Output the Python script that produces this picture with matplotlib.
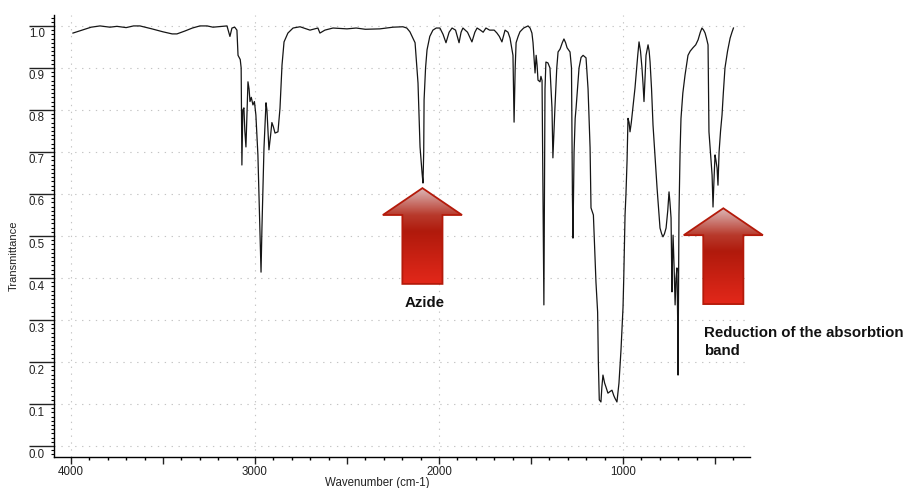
import matplotlib
matplotlib.use("Agg")
import matplotlib.pyplot as plt
import numpy as np
from matplotlib.patches import Polygon
from matplotlib.colors import LinearSegmentedColormap
from matplotlib.ticker import MultipleLocator, FixedLocator
from matplotlib.transforms import ScaledTranslation

plt.rcParams['font.family'] = ['Liberation Sans', 'DejaVu Sans']

# IR spectrum (wavenumber cm-1, transmittance)
wavenumber = [3989, 3940, 3890, 3842, 3788, 3750, 3700, 3660, 3625, 3560, 3500, 3450, 3424, 3380,
              3340, 3299, 3260, 3228, 3175, 3152, 3136, 3125, 3110, 3098, 3092, 3080, 3075, 3071,
              3066, 3060, 3055, 3049, 3043, 3038, 3032, 3027, 3020, 3011, 3003, 2995, 2984, 2973,
              2967, 2962, 2951, 2940, 2935, 2924, 2915, 2908, 2900, 2891, 2875, 2864, 2853, 2842,
              2821, 2793, 2755, 2701, 2658, 2647, 2620, 2576, 2500, 2450, 2400, 2321, 2250, 2196,
              2175, 2158, 2130, 2114, 2103, 2092, 2087, 2083, 2081, 2073, 2065, 2050, 2033, 2015,
              1995, 1978, 1962, 1945, 1929, 1910, 1891, 1880, 1870, 1845, 1821, 1805, 1793, 1775,
              1760, 1745, 1725, 1700, 1685, 1672, 1658, 1641, 1625, 1614, 1598, 1592, 1586, 1581,
              1570, 1560, 1540, 1516, 1505, 1495, 1489, 1478, 1472, 1467, 1462, 1451, 1446, 1440,
              1430, 1424, 1419, 1408, 1397, 1386, 1381, 1375, 1370, 1360, 1353, 1342, 1330, 1321,
              1312, 1304, 1288, 1280, 1275, 1272, 1266, 1260, 1255, 1239, 1228, 1217, 1201, 1190,
              1179, 1174, 1161, 1152, 1147, 1138, 1134, 1129, 1120, 1115, 1109, 1100, 1093, 1082,
              1070, 1060, 1050, 1044, 1033, 1022, 1011, 1000, 996, 989, 984, 978, 973, 967,
              962, 955, 945, 935, 920, 913, 905, 897, 891, 886, 880, 875, 864, 858,
              853, 845, 837, 815, 799, 790, 783, 775, 766, 757, 750, 745, 739, 734,
              731, 728, 722, 717, 712, 707, 703, 701, 698, 696, 690, 685, 675, 663,
              647, 635, 620, 605, 592, 580, 571, 562, 554, 546, 538, 533, 525, 516,
              511, 506, 500, 495, 489, 484, 478, 470, 462, 455, 446, 432, 418, 408, 400]
transmittance = [0.983, 0.990, 0.997, 1.000, 0.997, 0.999, 0.996, 1.000, 1.000, 0.993, 0.986, 0.981, 0.981, 0.988,
                 0.995, 1.000, 1.000, 0.997, 0.999, 1.000, 0.975, 0.995, 0.997, 0.990, 0.930, 0.920, 0.900, 0.669,
                 0.800, 0.805, 0.750, 0.712, 0.800, 0.867, 0.850, 0.820, 0.830, 0.812, 0.820, 0.788, 0.693, 0.510,
                 0.414, 0.520, 0.709, 0.817, 0.800, 0.705, 0.740, 0.770, 0.760, 0.745, 0.748, 0.804, 0.907, 0.962,
                 0.983, 0.995, 0.998, 0.990, 0.995, 0.983, 0.990, 0.995, 0.993, 0.995, 0.992, 0.993, 0.997, 0.998,
                 0.995, 0.986, 0.960, 0.864, 0.712, 0.650, 0.626, 0.700, 0.824, 0.900, 0.943, 0.975, 0.990, 0.995,
                 0.995, 0.980, 0.960, 0.985, 0.995, 0.990, 0.960, 0.985, 0.995, 0.985, 0.962, 0.985, 0.995, 0.990,
                 0.985, 0.995, 0.990, 0.990, 0.983, 0.975, 0.962, 0.990, 0.985, 0.971, 0.930, 0.771, 0.900, 0.960,
                 0.975, 0.986, 0.995, 1.000, 0.995, 0.983, 0.960, 0.888, 0.930, 0.907, 0.871, 0.867, 0.880, 0.870,
                 0.336, 0.850, 0.914, 0.912, 0.900, 0.805, 0.686, 0.750, 0.805, 0.900, 0.938, 0.945, 0.960, 0.969,
                 0.960, 0.948, 0.938, 0.900, 0.600, 0.495, 0.700, 0.780, 0.805, 0.900, 0.925, 0.930, 0.924, 0.850,
                 0.710, 0.567, 0.550, 0.450, 0.390, 0.319, 0.198, 0.110, 0.105, 0.140, 0.169, 0.150, 0.141, 0.126,
                 0.130, 0.133, 0.120, 0.114, 0.105, 0.150, 0.229, 0.330, 0.400, 0.550, 0.600, 0.680, 0.780, 0.770,
                 0.748, 0.770, 0.810, 0.852, 0.930, 0.962, 0.940, 0.900, 0.860, 0.820, 0.880, 0.930, 0.955, 0.940,
                 0.914, 0.850, 0.764, 0.614, 0.519, 0.505, 0.498, 0.505, 0.519, 0.560, 0.605, 0.580, 0.543, 0.367,
                 0.450, 0.502, 0.420, 0.336, 0.400, 0.424, 0.300, 0.169, 0.400, 0.550, 0.700, 0.780, 0.840, 0.883,
                 0.930, 0.940, 0.948, 0.955, 0.967, 0.985, 0.995, 0.990, 0.983, 0.970, 0.955, 0.748, 0.700, 0.645,
                 0.569, 0.630, 0.693, 0.680, 0.662, 0.621, 0.700, 0.750, 0.788, 0.840, 0.900, 0.940, 0.971, 0.985, 0.995]

x_labels = [4000, 3000, 2000, 1000]
y_ticks = [0.0, 0.1, 0.2, 0.3, 0.4, 0.5, 0.6, 0.7, 0.8, 0.9, 1.0]

# annotation arrows: (tip wavenumber, tip T, head base T, bottom T)
arrows = [(2090, 0.614, 0.550, 0.386),
          (455, 0.566, 0.502, 0.338)]

fig = plt.figure(figsize=(9.11, 4.88), dpi=100)
ax = fig.add_axes([54 / 911, 1 - 457 / 488, 696 / 911, 442 / 488])

ax.plot(wavenumber, transmittance, color='#151515', lw=0.9, zorder=3)

# gradient arrows
cmap = LinearSegmentedColormap.from_list('arrow', [(0.0, '#e3281a'), (0.55, '#b01a0c'),
                                                   (0.72, '#b83a2c'), (1.0, '#dcb8b8')])
grad = np.linspace(0, 1, 256).reshape(-1, 1)
head_hw = 215
shaft_hw = 109
for tip_x, tip_y, head_y, base_y in arrows:
    verts = [(tip_x, tip_y), (tip_x - head_hw, head_y), (tip_x - shaft_hw, head_y),
             (tip_x - shaft_hw, base_y), (tip_x + shaft_hw, base_y), (tip_x + shaft_hw, head_y),
             (tip_x + head_hw, head_y)]
    poly = Polygon(verts, closed=True, fc='none', ec='#b41a0a', lw=1.3, zorder=6, clip_on=False,
                   joinstyle='miter')
    ax.add_patch(poly)
    im = ax.imshow(grad, cmap=cmap, aspect='auto', origin='lower', zorder=5,
                   extent=(tip_x + head_hw, tip_x - head_hw, base_y, tip_y))
    im.set_clip_path(poly)
    im.set_clip_box(fig.bbox)

ax.text(2076, 0.34, 'Azide', fontsize=10.8, fontweight='bold', ha='center', va='center', color='#111111')
ax.text(560, 0.248, 'Reduction of the absorbtion\nband', fontsize=10.8, fontweight='bold',
        ha='left', va='center', linespacing=1.35, color='#111111')

ax.set_xlim(4092, 310)
ax.set_ylim(-0.026, 1.026)

# dotted grid
for xv in x_labels:
    ax.axvline(xv, color='#c4c4c4', lw=0.8, ls=(0, (1.2, 5)), zorder=1)
for yv in y_ticks:
    ax.axhline(yv, color='#c4c4c4', lw=0.8, ls=(0, (1.2, 5)), zorder=1)

ax.spines['top'].set_visible(False)
ax.spines['right'].set_visible(False)
ax.spines['left'].set_linewidth(1.0)
ax.spines['bottom'].set_linewidth(1.0)

ax.xaxis.set_major_locator(MultipleLocator(500))
ax.xaxis.set_minor_locator(MultipleLocator(100))
ax.xaxis.set_major_formatter(lambda v, p: '%d' % v if int(v) in x_labels else '')
ax.tick_params(axis='x', which='major', length=5, width=1, pad=1.5, labelsize=8.3, colors='#222222')
ax.tick_params(axis='x', which='minor', length=2.5, width=1)

ax.yaxis.set_major_locator(FixedLocator(y_ticks))
ax.yaxis.set_minor_locator(MultipleLocator(0.01))
ax.yaxis.set_major_formatter(lambda v, p: '%.1f' % v)
ax.tick_params(axis='y', which='major', length=18, width=1, pad=-11.5, labelsize=8.3, colors='#222222')
ax.tick_params(axis='y', which='minor', length=2, width=0.8)
shift = ScaledTranslation(0, -7 / 100, fig.dpi_scale_trans)
for lab in ax.get_yticklabels():
    lab.set_transform(lab.get_transform() + shift)

fig.text(14 / 911, 1 - 256 / 488, 'Transmittance', rotation=90, fontsize=8, ha='center', va='center',
         color='#222222')
fig.text(377 / 911, 1 - 483 / 488, 'Wavenumber (cm-1)', fontsize=8.3, ha='center', va='center',
         color='#222222')

fig.savefig('out.png', dpi=100, facecolor='white')
